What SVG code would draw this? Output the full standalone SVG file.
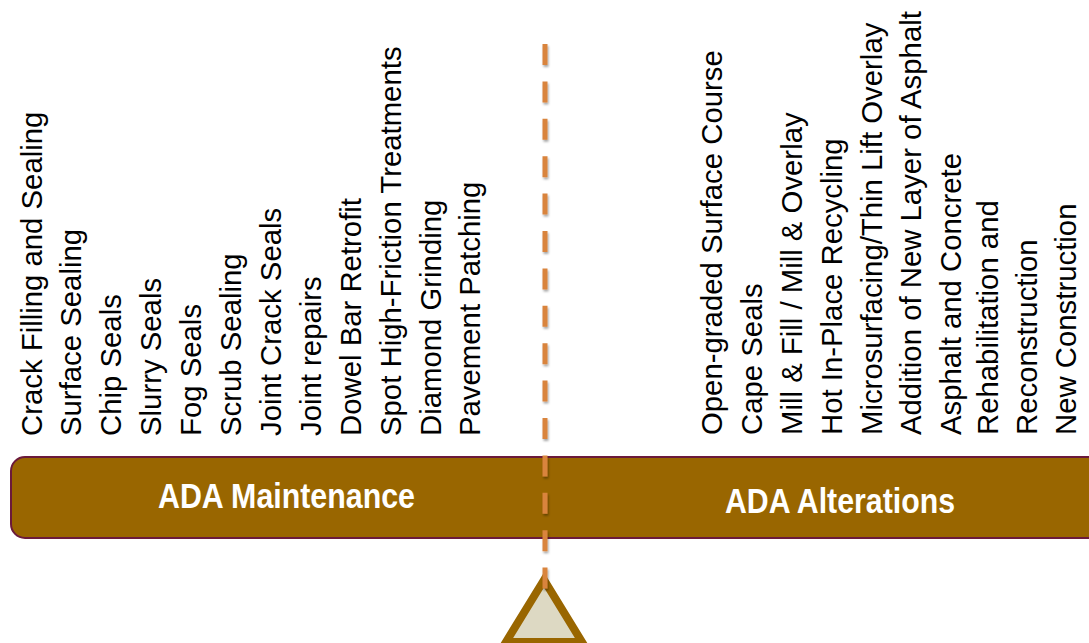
<svg xmlns="http://www.w3.org/2000/svg" width="1089" height="643" viewBox="0 0 1089 643">
  <defs>
    <style>
      .item { font-family: "Liberation Sans", Arial, sans-serif; font-size: 29.33px; fill: #000000; }
      .label { font-family: "Liberation Sans", Arial, sans-serif; font-size: 35px; font-weight: bold; fill: #FFFFFF; }
      .bar { fill: #996600; stroke: #6B1A3B; stroke-width: 2; }
      .pivot { fill: #DDD9C3; stroke: #996600; stroke-width: 8; stroke-linejoin: miter; }
      .axis { fill: none; stroke: #D9843D; stroke-width: 5; stroke-dasharray: 21 16.4; }
    </style>
    <filter id="shadow" filterUnits="userSpaceOnUse" x="520" y="20" width="50" height="600">
      <feDropShadow dx="1" dy="2" stdDeviation="1.2" flood-color="#000000" flood-opacity="0.35"/>
    </filter>
  </defs>
  <rect width="1089" height="643" fill="#FFFFFF"/>

  <g id="beam">
    <rect class="bar" x="11" y="457" width="1100" height="81" rx="14" ry="14"/>
    <text class="label" x="158" y="508" textLength="257" lengthAdjust="spacingAndGlyphs">ADA Maintenance</text>
    <text class="label" x="725" y="513" textLength="230" lengthAdjust="spacingAndGlyphs">ADA Alterations</text>
  </g>

  <g id="maintenance-items">
    <text class="item" transform="translate(42,436) rotate(-90)">Crack Filling and Sealing</text>
    <text class="item" transform="translate(81,436) rotate(-90)">Surface Sealing</text>
    <text class="item" transform="translate(121,436) rotate(-90)">Chip Seals</text>
    <text class="item" transform="translate(161,436) rotate(-90)">Slurry Seals</text>
    <text class="item" transform="translate(201,436) rotate(-90)">Fog Seals</text>
    <text class="item" transform="translate(241,436) rotate(-90)">Scrub Sealing</text>
    <text class="item" transform="translate(281,436) rotate(-90)">Joint Crack Seals</text>
    <text class="item" transform="translate(321,436) rotate(-90)">Joint repairs</text>
    <text class="item" transform="translate(361,436) rotate(-90)">Dowel Bar Retrofit</text>
    <text class="item" transform="translate(401,436) rotate(-90)">Spot High-Friction Treatments</text>
    <text class="item" transform="translate(441,436) rotate(-90)">Diamond Grinding</text>
    <text class="item" transform="translate(480,436) rotate(-90)">Pavement Patching</text>
  </g>

  <g id="alteration-items">
    <text class="item" transform="translate(722,435) rotate(-90)">Open-graded Surface Course</text>
    <text class="item" transform="translate(762,435) rotate(-90)">Cape Seals</text>
    <text class="item" transform="translate(802,435) rotate(-90)">Mill &amp; Fill / Mill &amp; Overlay</text>
    <text class="item" transform="translate(842,435) rotate(-90)">Hot In-Place Recycling</text>
    <text class="item" transform="translate(882,435) rotate(-90)">Microsurfacing/Thin Lift Overlay</text>
    <text class="item" transform="translate(921,435) rotate(-90)">Addition of New Layer of Asphalt</text>
    <text class="item" transform="translate(961,435) rotate(-90)">Asphalt and Concrete</text>
    <text class="item" transform="translate(998,435) rotate(-90)">Rehabilitation and</text>
    <text class="item" transform="translate(1037,435) rotate(-90)">Reconstruction</text>
    <text class="item" transform="translate(1076,435) rotate(-90)">New Construction</text>
  </g>

  <g id="fulcrum">
    <polygon class="pivot" points="544,580 506,642 582,642"/>
  </g>

  <g id="connectors">
    <path class="axis" d="M545,44 V589" filter="url(#shadow)"/>
  </g>
</svg>
